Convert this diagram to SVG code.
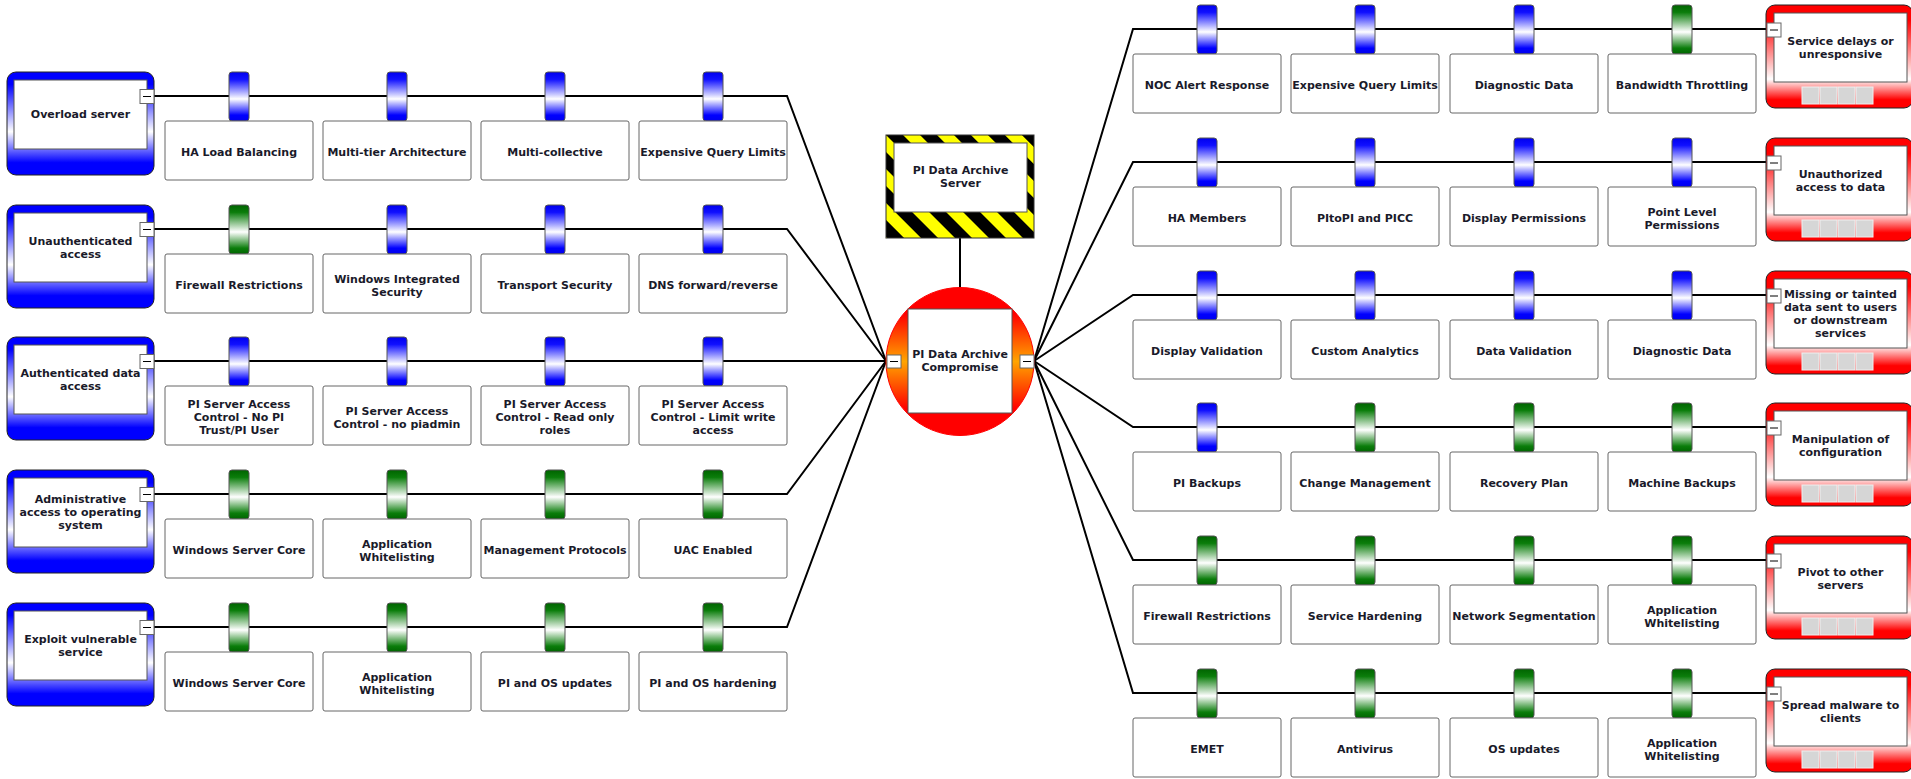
<svg xmlns="http://www.w3.org/2000/svg" width="1911" height="779" viewBox="0 0 1911 779">
<style>
.t{font-family:"DejaVu Sans",Verdana,sans-serif;font-weight:bold;font-size:11px;fill:#1a1a2a;text-anchor:middle}
.box{fill:#fff;stroke:#666;stroke-width:1}
.inner{fill:#fff;stroke:#555;stroke-width:1}
.barB{fill:url(#gBarB);stroke:#555;stroke-width:1}
.barG{fill:url(#gBarG);stroke:#555;stroke-width:1}
.threat{fill:url(#gThreat);stroke:#222;stroke-width:1}
.cons{fill:url(#gCons);stroke:#222;stroke-width:1}
.minus{fill:#fff;stroke:#666;stroke-width:1}
.dash{stroke:#000;stroke-width:1}
.gray{fill:#d6d6d6;stroke:#efefef;stroke-width:1}
.conn{fill:none;stroke:#000;stroke-width:2}
</style>
<defs>
<linearGradient id="gThreat" x1="0" y1="0" x2="0" y2="1">
<stop offset="0" stop-color="#0000ff"/><stop offset="0.12" stop-color="#0000ff"/><stop offset="0.58" stop-color="#ffffff"/><stop offset="0.88" stop-color="#0000ff"/><stop offset="1" stop-color="#0000ff"/>
</linearGradient>
<linearGradient id="gCons" x1="0" y1="0" x2="0" y2="1">
<stop offset="0" stop-color="#ff0000"/><stop offset="0.15" stop-color="#ff0000"/><stop offset="0.72" stop-color="#ffffff"/><stop offset="0.92" stop-color="#ff0000"/><stop offset="1" stop-color="#ff0000"/>
</linearGradient>
<linearGradient id="gBarB" x1="0" y1="0" x2="0" y2="1">
<stop offset="0" stop-color="#0000ee"/><stop offset="0.15" stop-color="#1010ff"/><stop offset="0.55" stop-color="#ffffff"/><stop offset="0.88" stop-color="#0000ff"/><stop offset="1" stop-color="#0000ee"/>
</linearGradient>
<linearGradient id="gBarG" x1="0" y1="0" x2="0" y2="1">
<stop offset="0" stop-color="#006400"/><stop offset="0.15" stop-color="#0b7d0b"/><stop offset="0.55" stop-color="#ffffff"/><stop offset="0.88" stop-color="#0b7d0b"/><stop offset="1" stop-color="#006400"/>
</linearGradient>
<linearGradient id="gCircle" x1="0" y1="0" x2="0" y2="1">
<stop offset="0" stop-color="#ff0000"/><stop offset="0.18" stop-color="#ff0000"/><stop offset="0.5" stop-color="#ffa500"/><stop offset="0.82" stop-color="#ff0000"/><stop offset="1" stop-color="#ff0000"/>
</linearGradient>
<pattern id="haz" width="24" height="24" patternUnits="userSpaceOnUse" patternTransform="translate(886,135) rotate(-45)">
<rect width="24" height="24" fill="#ffff00"/><rect width="12" height="24" fill="#000"/>
</pattern>
</defs>

<g id="connectors">
<polyline class="conn" points="154,96 787,96 886,361"/>
<polyline class="conn" points="154,229 787,229 886,361"/>
<polyline class="conn" points="154,361 886,361"/>
<polyline class="conn" points="154,494 787,494 886,361"/>
<polyline class="conn" points="154,627 787,627 886,361"/>
<polyline class="conn" points="1034,361 1133,29 1766,29"/>
<polyline class="conn" points="1034,361 1133,162 1766,162"/>
<polyline class="conn" points="1034,361 1133,295 1766,295"/>
<polyline class="conn" points="1034,361 1133,427 1766,427"/>
<polyline class="conn" points="1034,361 1133,560 1766,560"/>
<polyline class="conn" points="1034,361 1133,693 1766,693"/>
<line class="conn" x1="960" y1="238" x2="960" y2="288"/>
</g>

<g id="hazard">
<rect x="886" y="135" width="148" height="103" fill="url(#haz)" stroke="#333" stroke-width="1"/>
<rect class="inner" x="894" y="143" width="133" height="69"/>
<text class="t" x="960.5"><tspan x="960.5" y="174">PI Data Archive</tspan><tspan x="960.5" y="187">Server</tspan></text>
</g>

<g id="top-event">
<circle cx="960" cy="361.5" r="74" fill="url(#gCircle)" stroke="#f00" stroke-width="1"/>
<rect class="inner" x="908" y="309" width="104" height="104"/>
<text class="t" x="960"><tspan x="960" y="358">PI Data Archive</tspan><tspan x="960" y="371">Compromise</tspan></text>
<rect class="minus" x="887" y="355" width="14" height="13"/><line class="dash" x1="890" y1="361.5" x2="898" y2="361.5"/>
<rect class="minus" x="1020" y="355" width="14" height="13"/><line class="dash" x1="1023" y1="361.5" x2="1031" y2="361.5"/>
</g>

<!-- Threats -->
<g id="threat-1" transform="translate(0,96)">
<rect class="threat" x="7" y="-24" width="147" height="103" rx="9"/>
<rect class="inner" x="14" y="-16" width="133" height="69"/>
<text class="t"><tspan x="80.5" y="22">Overload server</tspan></text>
<rect class="minus" x="140" y="-6.5" width="14" height="14"/><line class="dash" x1="143" y1="0.5" x2="151" y2="0.5"/>
</g>
<g id="threat-2" transform="translate(0,229)">
<rect class="threat" x="7" y="-24" width="147" height="103" rx="9"/>
<rect class="inner" x="14" y="-16" width="133" height="69"/>
<text class="t"><tspan x="80.5" y="15.5">Unauthenticated</tspan><tspan x="80.5" y="28.5">access</tspan></text>
<rect class="minus" x="140" y="-6.5" width="14" height="14"/><line class="dash" x1="143" y1="0.5" x2="151" y2="0.5"/>
</g>
<g id="threat-3" transform="translate(0,361)">
<rect class="threat" x="7" y="-24" width="147" height="103" rx="9"/>
<rect class="inner" x="14" y="-16" width="133" height="69"/>
<text class="t"><tspan x="80.5" y="15.5">Authenticated data</tspan><tspan x="80.5" y="28.5">access</tspan></text>
<rect class="minus" x="140" y="-6.5" width="14" height="14"/><line class="dash" x1="143" y1="0.5" x2="151" y2="0.5"/>
</g>
<g id="threat-4" transform="translate(0,494)">
<rect class="threat" x="7" y="-24" width="147" height="103" rx="9"/>
<rect class="inner" x="14" y="-16" width="133" height="69"/>
<text class="t"><tspan x="80.5" y="9">Administrative</tspan><tspan x="80.5" y="22">access to operating</tspan><tspan x="80.5" y="35">system</tspan></text>
<rect class="minus" x="140" y="-6.5" width="14" height="14"/><line class="dash" x1="143" y1="0.5" x2="151" y2="0.5"/>
</g>
<g id="threat-5" transform="translate(0,627)">
<rect class="threat" x="7" y="-24" width="147" height="103" rx="9"/>
<rect class="inner" x="14" y="-16" width="133" height="69"/>
<text class="t"><tspan x="80.5" y="15.5">Exploit vulnerable</tspan><tspan x="80.5" y="28.5">service</tspan></text>
<rect class="minus" x="140" y="-6.5" width="14" height="14"/><line class="dash" x1="143" y1="0.5" x2="151" y2="0.5"/>
</g>

<!-- Left controls row 1 -->
<g id="c-l1-1" transform="translate(165,96)"><rect class="barB" x="64" y="-24" width="20" height="49" rx="3"/><rect class="box" x="0" y="25" width="148" height="59" rx="2"/><text class="t"><tspan x="74" y="60">HA Load Balancing</tspan></text></g>
<g id="c-l1-2" transform="translate(323,96)"><rect class="barB" x="64" y="-24" width="20" height="49" rx="3"/><rect class="box" x="0" y="25" width="148" height="59" rx="2"/><text class="t"><tspan x="74" y="60">Multi-tier Architecture</tspan></text></g>
<g id="c-l1-3" transform="translate(481,96)"><rect class="barB" x="64" y="-24" width="20" height="49" rx="3"/><rect class="box" x="0" y="25" width="148" height="59" rx="2"/><text class="t"><tspan x="74" y="60">Multi-collective</tspan></text></g>
<g id="c-l1-4" transform="translate(639,96)"><rect class="barB" x="64" y="-24" width="20" height="49" rx="3"/><rect class="box" x="0" y="25" width="148" height="59" rx="2"/><text class="t"><tspan x="74" y="60">Expensive Query Limits</tspan></text></g>

<!-- Left controls row 2 -->
<g id="c-l2-1" transform="translate(165,229)"><rect class="barG" x="64" y="-24" width="20" height="49" rx="3"/><rect class="box" x="0" y="25" width="148" height="59" rx="2"/><text class="t"><tspan x="74" y="60">Firewall Restrictions</tspan></text></g>
<g id="c-l2-2" transform="translate(323,229)"><rect class="barB" x="64" y="-24" width="20" height="49" rx="3"/><rect class="box" x="0" y="25" width="148" height="59" rx="2"/><text class="t"><tspan x="74" y="53.5">Windows Integrated</tspan><tspan x="74" y="66.5">Security</tspan></text></g>
<g id="c-l2-3" transform="translate(481,229)"><rect class="barB" x="64" y="-24" width="20" height="49" rx="3"/><rect class="box" x="0" y="25" width="148" height="59" rx="2"/><text class="t"><tspan x="74" y="60">Transport Security</tspan></text></g>
<g id="c-l2-4" transform="translate(639,229)"><rect class="barB" x="64" y="-24" width="20" height="49" rx="3"/><rect class="box" x="0" y="25" width="148" height="59" rx="2"/><text class="t"><tspan x="74" y="60">DNS forward/reverse</tspan></text></g>

<!-- Left controls row 3 -->
<g id="c-l3-1" transform="translate(165,361)"><rect class="barB" x="64" y="-24" width="20" height="49" rx="3"/><rect class="box" x="0" y="25" width="148" height="59" rx="2"/><text class="t"><tspan x="74" y="47">PI Server Access</tspan><tspan x="74" y="60">Control - No PI</tspan><tspan x="74" y="73">Trust/PI User</tspan></text></g>
<g id="c-l3-2" transform="translate(323,361)"><rect class="barB" x="64" y="-24" width="20" height="49" rx="3"/><rect class="box" x="0" y="25" width="148" height="59" rx="2"/><text class="t"><tspan x="74" y="53.5">PI Server Access</tspan><tspan x="74" y="66.5">Control - no piadmin</tspan></text></g>
<g id="c-l3-3" transform="translate(481,361)"><rect class="barB" x="64" y="-24" width="20" height="49" rx="3"/><rect class="box" x="0" y="25" width="148" height="59" rx="2"/><text class="t"><tspan x="74" y="47">PI Server Access</tspan><tspan x="74" y="60">Control - Read only</tspan><tspan x="74" y="73">roles</tspan></text></g>
<g id="c-l3-4" transform="translate(639,361)"><rect class="barB" x="64" y="-24" width="20" height="49" rx="3"/><rect class="box" x="0" y="25" width="148" height="59" rx="2"/><text class="t"><tspan x="74" y="47">PI Server Access</tspan><tspan x="74" y="60">Control - Limit write</tspan><tspan x="74" y="73">access</tspan></text></g>

<!-- Left controls row 4 -->
<g id="c-l4-1" transform="translate(165,494)"><rect class="barG" x="64" y="-24" width="20" height="49" rx="3"/><rect class="box" x="0" y="25" width="148" height="59" rx="2"/><text class="t"><tspan x="74" y="60">Windows Server Core</tspan></text></g>
<g id="c-l4-2" transform="translate(323,494)"><rect class="barG" x="64" y="-24" width="20" height="49" rx="3"/><rect class="box" x="0" y="25" width="148" height="59" rx="2"/><text class="t"><tspan x="74" y="53.5">Application</tspan><tspan x="74" y="66.5">Whitelisting</tspan></text></g>
<g id="c-l4-3" transform="translate(481,494)"><rect class="barG" x="64" y="-24" width="20" height="49" rx="3"/><rect class="box" x="0" y="25" width="148" height="59" rx="2"/><text class="t"><tspan x="74" y="60">Management Protocols</tspan></text></g>
<g id="c-l4-4" transform="translate(639,494)"><rect class="barG" x="64" y="-24" width="20" height="49" rx="3"/><rect class="box" x="0" y="25" width="148" height="59" rx="2"/><text class="t"><tspan x="74" y="60">UAC Enabled</tspan></text></g>

<!-- Left controls row 5 -->
<g id="c-l5-1" transform="translate(165,627)"><rect class="barG" x="64" y="-24" width="20" height="49" rx="3"/><rect class="box" x="0" y="25" width="148" height="59" rx="2"/><text class="t"><tspan x="74" y="60">Windows Server Core</tspan></text></g>
<g id="c-l5-2" transform="translate(323,627)"><rect class="barG" x="64" y="-24" width="20" height="49" rx="3"/><rect class="box" x="0" y="25" width="148" height="59" rx="2"/><text class="t"><tspan x="74" y="53.5">Application</tspan><tspan x="74" y="66.5">Whitelisting</tspan></text></g>
<g id="c-l5-3" transform="translate(481,627)"><rect class="barG" x="64" y="-24" width="20" height="49" rx="3"/><rect class="box" x="0" y="25" width="148" height="59" rx="2"/><text class="t"><tspan x="74" y="60">PI and OS updates</tspan></text></g>
<g id="c-l5-4" transform="translate(639,627)"><rect class="barG" x="64" y="-24" width="20" height="49" rx="3"/><rect class="box" x="0" y="25" width="148" height="59" rx="2"/><text class="t"><tspan x="74" y="60">PI and OS hardening</tspan></text></g>

<!-- Right controls row 1 -->
<g id="c-r1-1" transform="translate(1133,29)"><rect class="barB" x="64" y="-24" width="20" height="49" rx="3"/><rect class="box" x="0" y="25" width="148" height="59" rx="2"/><text class="t"><tspan x="74" y="60">NOC Alert Response</tspan></text></g>
<g id="c-r1-2" transform="translate(1291,29)"><rect class="barB" x="64" y="-24" width="20" height="49" rx="3"/><rect class="box" x="0" y="25" width="148" height="59" rx="2"/><text class="t"><tspan x="74" y="60">Expensive Query Limits</tspan></text></g>
<g id="c-r1-3" transform="translate(1450,29)"><rect class="barB" x="64" y="-24" width="20" height="49" rx="3"/><rect class="box" x="0" y="25" width="148" height="59" rx="2"/><text class="t"><tspan x="74" y="60">Diagnostic Data</tspan></text></g>
<g id="c-r1-4" transform="translate(1608,29)"><rect class="barG" x="64" y="-24" width="20" height="49" rx="3"/><rect class="box" x="0" y="25" width="148" height="59" rx="2"/><text class="t"><tspan x="74" y="60">Bandwidth Throttling</tspan></text></g>

<!-- Right controls row 2 -->
<g id="c-r2-1" transform="translate(1133,162)"><rect class="barB" x="64" y="-24" width="20" height="49" rx="3"/><rect class="box" x="0" y="25" width="148" height="59" rx="2"/><text class="t"><tspan x="74" y="60">HA Members</tspan></text></g>
<g id="c-r2-2" transform="translate(1291,162)"><rect class="barB" x="64" y="-24" width="20" height="49" rx="3"/><rect class="box" x="0" y="25" width="148" height="59" rx="2"/><text class="t"><tspan x="74" y="60">PItoPI and PICC</tspan></text></g>
<g id="c-r2-3" transform="translate(1450,162)"><rect class="barB" x="64" y="-24" width="20" height="49" rx="3"/><rect class="box" x="0" y="25" width="148" height="59" rx="2"/><text class="t"><tspan x="74" y="60">Display Permissions</tspan></text></g>
<g id="c-r2-4" transform="translate(1608,162)"><rect class="barB" x="64" y="-24" width="20" height="49" rx="3"/><rect class="box" x="0" y="25" width="148" height="59" rx="2"/><text class="t"><tspan x="74" y="53.5">Point Level</tspan><tspan x="74" y="66.5">Permissions</tspan></text></g>

<!-- Right controls row 3 -->
<g id="c-r3-1" transform="translate(1133,295)"><rect class="barB" x="64" y="-24" width="20" height="49" rx="3"/><rect class="box" x="0" y="25" width="148" height="59" rx="2"/><text class="t"><tspan x="74" y="60">Display Validation</tspan></text></g>
<g id="c-r3-2" transform="translate(1291,295)"><rect class="barB" x="64" y="-24" width="20" height="49" rx="3"/><rect class="box" x="0" y="25" width="148" height="59" rx="2"/><text class="t"><tspan x="74" y="60">Custom Analytics</tspan></text></g>
<g id="c-r3-3" transform="translate(1450,295)"><rect class="barB" x="64" y="-24" width="20" height="49" rx="3"/><rect class="box" x="0" y="25" width="148" height="59" rx="2"/><text class="t"><tspan x="74" y="60">Data Validation</tspan></text></g>
<g id="c-r3-4" transform="translate(1608,295)"><rect class="barB" x="64" y="-24" width="20" height="49" rx="3"/><rect class="box" x="0" y="25" width="148" height="59" rx="2"/><text class="t"><tspan x="74" y="60">Diagnostic Data</tspan></text></g>

<!-- Right controls row 4 -->
<g id="c-r4-1" transform="translate(1133,427)"><rect class="barB" x="64" y="-24" width="20" height="49" rx="3"/><rect class="box" x="0" y="25" width="148" height="59" rx="2"/><text class="t"><tspan x="74" y="60">PI Backups</tspan></text></g>
<g id="c-r4-2" transform="translate(1291,427)"><rect class="barG" x="64" y="-24" width="20" height="49" rx="3"/><rect class="box" x="0" y="25" width="148" height="59" rx="2"/><text class="t"><tspan x="74" y="60">Change Management</tspan></text></g>
<g id="c-r4-3" transform="translate(1450,427)"><rect class="barG" x="64" y="-24" width="20" height="49" rx="3"/><rect class="box" x="0" y="25" width="148" height="59" rx="2"/><text class="t"><tspan x="74" y="60">Recovery Plan</tspan></text></g>
<g id="c-r4-4" transform="translate(1608,427)"><rect class="barG" x="64" y="-24" width="20" height="49" rx="3"/><rect class="box" x="0" y="25" width="148" height="59" rx="2"/><text class="t"><tspan x="74" y="60">Machine Backups</tspan></text></g>

<!-- Right controls row 5 -->
<g id="c-r5-1" transform="translate(1133,560)"><rect class="barG" x="64" y="-24" width="20" height="49" rx="3"/><rect class="box" x="0" y="25" width="148" height="59" rx="2"/><text class="t"><tspan x="74" y="60">Firewall Restrictions</tspan></text></g>
<g id="c-r5-2" transform="translate(1291,560)"><rect class="barG" x="64" y="-24" width="20" height="49" rx="3"/><rect class="box" x="0" y="25" width="148" height="59" rx="2"/><text class="t"><tspan x="74" y="60">Service Hardening</tspan></text></g>
<g id="c-r5-3" transform="translate(1450,560)"><rect class="barG" x="64" y="-24" width="20" height="49" rx="3"/><rect class="box" x="0" y="25" width="148" height="59" rx="2"/><text class="t"><tspan x="74" y="60">Network Segmentation</tspan></text></g>
<g id="c-r5-4" transform="translate(1608,560)"><rect class="barG" x="64" y="-24" width="20" height="49" rx="3"/><rect class="box" x="0" y="25" width="148" height="59" rx="2"/><text class="t"><tspan x="74" y="53.5">Application</tspan><tspan x="74" y="66.5">Whitelisting</tspan></text></g>

<!-- Right controls row 6 -->
<g id="c-r6-1" transform="translate(1133,693)"><rect class="barG" x="64" y="-24" width="20" height="49" rx="3"/><rect class="box" x="0" y="25" width="148" height="59" rx="2"/><text class="t"><tspan x="74" y="60">EMET</tspan></text></g>
<g id="c-r6-2" transform="translate(1291,693)"><rect class="barG" x="64" y="-24" width="20" height="49" rx="3"/><rect class="box" x="0" y="25" width="148" height="59" rx="2"/><text class="t"><tspan x="74" y="60">Antivirus</tspan></text></g>
<g id="c-r6-3" transform="translate(1450,693)"><rect class="barG" x="64" y="-24" width="20" height="49" rx="3"/><rect class="box" x="0" y="25" width="148" height="59" rx="2"/><text class="t"><tspan x="74" y="60">OS updates</tspan></text></g>
<g id="c-r6-4" transform="translate(1608,693)"><rect class="barG" x="64" y="-24" width="20" height="49" rx="3"/><rect class="box" x="0" y="25" width="148" height="59" rx="2"/><text class="t"><tspan x="74" y="53.5">Application</tspan><tspan x="74" y="66.5">Whitelisting</tspan></text></g>

<!-- Consequences -->
<g id="cons-1" transform="translate(1766,29)">
<rect class="cons" x="0" y="-24" width="147" height="103" rx="9"/><rect class="inner" x="8" y="-16" width="133" height="69"/>
<rect class="gray" x="36" y="58" width="17" height="17"/><rect class="gray" x="54" y="58" width="17" height="17"/><rect class="gray" x="72" y="58" width="17" height="17"/><rect class="gray" x="90" y="58" width="17" height="17"/>
<text class="t"><tspan x="74.5" y="15.5">Service delays or</tspan><tspan x="74.5" y="28.5">unresponsive</tspan></text>
<rect class="minus" x="1" y="-6" width="14" height="14"/><line class="dash" x1="4" y1="1" x2="12" y2="1"/>
</g>
<g id="cons-2" transform="translate(1766,162)">
<rect class="cons" x="0" y="-24" width="147" height="103" rx="9"/><rect class="inner" x="8" y="-16" width="133" height="69"/>
<rect class="gray" x="36" y="58" width="17" height="17"/><rect class="gray" x="54" y="58" width="17" height="17"/><rect class="gray" x="72" y="58" width="17" height="17"/><rect class="gray" x="90" y="58" width="17" height="17"/>
<text class="t"><tspan x="74.5" y="15.5">Unauthorized</tspan><tspan x="74.5" y="28.5">access to data</tspan></text>
<rect class="minus" x="1" y="-6" width="14" height="14"/><line class="dash" x1="4" y1="1" x2="12" y2="1"/>
</g>
<g id="cons-3" transform="translate(1766,295)">
<rect class="cons" x="0" y="-24" width="147" height="103" rx="9"/><rect class="inner" x="8" y="-16" width="133" height="69"/>
<rect class="gray" x="36" y="58" width="17" height="17"/><rect class="gray" x="54" y="58" width="17" height="17"/><rect class="gray" x="72" y="58" width="17" height="17"/><rect class="gray" x="90" y="58" width="17" height="17"/>
<text class="t"><tspan x="74.5" y="2.5">Missing or tainted</tspan><tspan x="74.5" y="15.5">data sent to users</tspan><tspan x="74.5" y="28.5">or downstream</tspan><tspan x="74.5" y="41.5">services</tspan></text>
<rect class="minus" x="1" y="-6" width="14" height="14"/><line class="dash" x1="4" y1="1" x2="12" y2="1"/>
</g>
<g id="cons-4" transform="translate(1766,427)">
<rect class="cons" x="0" y="-24" width="147" height="103" rx="9"/><rect class="inner" x="8" y="-16" width="133" height="69"/>
<rect class="gray" x="36" y="58" width="17" height="17"/><rect class="gray" x="54" y="58" width="17" height="17"/><rect class="gray" x="72" y="58" width="17" height="17"/><rect class="gray" x="90" y="58" width="17" height="17"/>
<text class="t"><tspan x="74.5" y="15.5">Manipulation of</tspan><tspan x="74.5" y="28.5">configuration</tspan></text>
<rect class="minus" x="1" y="-6" width="14" height="14"/><line class="dash" x1="4" y1="1" x2="12" y2="1"/>
</g>
<g id="cons-5" transform="translate(1766,560)">
<rect class="cons" x="0" y="-24" width="147" height="103" rx="9"/><rect class="inner" x="8" y="-16" width="133" height="69"/>
<rect class="gray" x="36" y="58" width="17" height="17"/><rect class="gray" x="54" y="58" width="17" height="17"/><rect class="gray" x="72" y="58" width="17" height="17"/><rect class="gray" x="90" y="58" width="17" height="17"/>
<text class="t"><tspan x="74.5" y="15.5">Pivot to other</tspan><tspan x="74.5" y="28.5">servers</tspan></text>
<rect class="minus" x="1" y="-6" width="14" height="14"/><line class="dash" x1="4" y1="1" x2="12" y2="1"/>
</g>
<g id="cons-6" transform="translate(1766,693)">
<rect class="cons" x="0" y="-24" width="147" height="103" rx="9"/><rect class="inner" x="8" y="-16" width="133" height="69"/>
<rect class="gray" x="36" y="58" width="17" height="17"/><rect class="gray" x="54" y="58" width="17" height="17"/><rect class="gray" x="72" y="58" width="17" height="17"/><rect class="gray" x="90" y="58" width="17" height="17"/>
<text class="t"><tspan x="74.5" y="15.5">Spread malware to</tspan><tspan x="74.5" y="28.5">clients</tspan></text>
<rect class="minus" x="1" y="-6" width="14" height="14"/><line class="dash" x1="4" y1="1" x2="12" y2="1"/>
</g>
</svg>
